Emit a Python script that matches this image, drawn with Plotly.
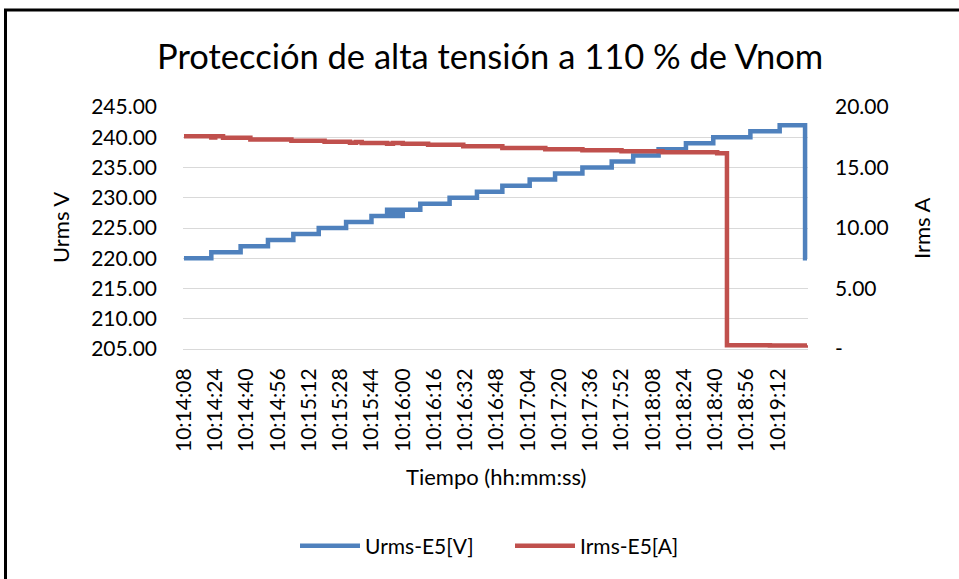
import pandas as pd
import plotly.graph_objects as go

# ---- data ----
start_time = "2024-01-01 10:14:08"

# Urms-E5[V]: seconds after start at which the value changes, and the value
urms_sec = [0, 14, 29, 43, 56, 69, 83, 96, 104, 105, 106, 108, 109, 110, 112,
            121, 136, 150, 163, 177, 190, 204, 219, 230, 243, 257, 271, 290,
            305, 318, 319]
urms_val = [220, 221, 222, 223, 224, 225, 226, 227, 228, 227, 228, 227, 228,
            227, 228, 229, 230, 231, 232, 233, 234, 235, 236, 237, 238, 239,
            240, 241, 242, 220, 220]

# Irms-E5[A]
irms_sec = [0, 14, 16, 20, 34, 55, 72, 85, 88, 91, 104, 107, 112, 125, 143,
            163, 185, 204, 224, 245, 273, 278, 300, 319]
irms_val = [17.58, 17.48, 17.58, 17.45, 17.32, 17.22, 17.12, 17.05, 17.11,
            17.03, 16.96, 17.02, 16.96, 16.88, 16.75, 16.61, 16.50, 16.42,
            16.34, 16.26, 16.17, 0.30, 0.28, 0.30]

y2_tickvals = [0, 5, 10, 15, 20]
y2_ticktext = ["-", "5.00", "10.00", "15.00", "20.00"]

base = pd.Timestamp(start_time)
urms_x = [base + pd.Timedelta(seconds=s) for s in urms_sec]
irms_x = [base + pd.Timedelta(seconds=s) for s in irms_sec]

FONT = "Lato"
BLUE = "#4F81BD"
RED = "#C0504D"
GRID = "#D9D9D9"

fig = go.Figure()
fig.add_trace(go.Scatter(x=urms_x, y=urms_val, name="Urms-E5[V]", mode="lines",
                         line=dict(color=BLUE, width=4.5, shape="hv")))
fig.add_trace(go.Scatter(x=irms_x, y=irms_val, name="Irms-E5[A]", mode="lines",
                         line=dict(color=RED, width=4.5, shape="hv"), yaxis="y2"))

W, H = 959, 579
L, R, T, B = 183, 808, 107, 349


def px(x):
    return (x - L) / (R - L)


def py(y):
    return (B - y) / (B - T)


fig.update_layout(
    width=W, height=H,
    margin=dict(l=L, r=W - R, t=T, b=H - B, pad=0),
    paper_bgcolor="white", plot_bgcolor="white",
    font=dict(family=FONT, size=21, color="black"),
    showlegend=True,
    legend=dict(orientation="h", x=px(295), y=py(546), xanchor="left",
                yanchor="middle", font=dict(size=21, family=FONT),
                itemwidth=60, entrywidth=140, entrywidthmode="pixels",
                bgcolor="rgba(0,0,0,0)"),
    xaxis=dict(
        type="date",
        range=[base - pd.Timedelta(seconds=0.5), base + pd.Timedelta(seconds=319.5)],
        tick0=base, dtick=16000, tickformat="%H:%M:%S", tickangle=-90,
        showgrid=False, showline=True, linecolor=GRID, linewidth=1,
        ticks="", ticklabelstandoff=10,
        tickfont=dict(size=21, family=FONT),
        zeroline=False,
    ),
    yaxis=dict(
        range=[205, 245], dtick=5, tick0=205, tickformat=".2f",
        showgrid=True, gridcolor=GRID, gridwidth=1, zeroline=False,
        ticks="", ticklabelstandoff=25, tickfont=dict(size=21, family=FONT),
    ),
    yaxis2=dict(
        range=[0, 20], overlaying="y", side="right",
        tickvals=y2_tickvals, ticktext=y2_ticktext,
        showgrid=False, zeroline=False,
        ticks="", ticklabelstandoff=26, tickfont=dict(size=21, family=FONT),
    ),
    annotations=[
        dict(text="Protección de alta tensión a 110 % de Vnom", xref="paper",
             yref="paper", x=px(490), y=py(55), xanchor="center",
             yanchor="middle", showarrow=False,
             font=dict(size=34.5, family=FONT)),
        dict(text="Urms V", xref="paper", yref="paper", x=px(60), y=py(228),
             xanchor="center", yanchor="middle", textangle=-90,
             showarrow=False, font=dict(size=22, family=FONT)),
        dict(text="Irms A", xref="paper", yref="paper", x=px(921), y=py(228),
             xanchor="center", yanchor="middle", textangle=-90,
             showarrow=False, font=dict(size=22, family=FONT)),
        dict(text="Tiempo (hh:mm:ss)", xref="paper", yref="paper",
             x=px(495.5), y=py(476), xanchor="center", yanchor="middle",
             showarrow=False, font=dict(size=22, family=FONT)),
    ],
    shapes=[
        dict(type="rect", xref="paper", yref="paper",
             x0=px(5.5), x1=px(1000), y0=py(620), y1=py(10),
             line=dict(color="black", width=3), fillcolor="rgba(0,0,0,0)",
             layer="above"),
    ],
)

fig.write_html("out.html", config={"displayModeBar": False},
               post_script="document.body.style.margin='0';")
